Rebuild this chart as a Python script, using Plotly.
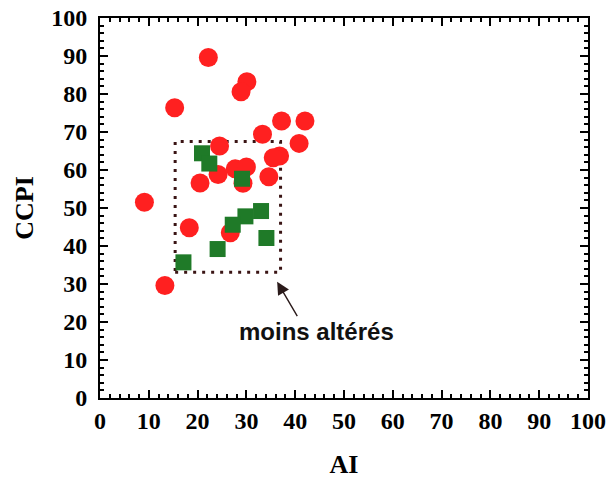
import plotly.graph_objects as go

# Red circles (all samples)
red_ai = [22.2, 30.1, 28.9, 15.3, 37.2, 42.0, 33.3, 40.8, 24.5, 36.8, 35.5,
          27.7, 30.0, 24.2, 29.3, 34.6, 20.5, 9.1, 18.3, 26.7, 13.3]
red_ccpi = [89.6, 83.2, 80.6, 76.4, 72.9, 72.9, 69.4, 67.0, 66.3, 63.7, 63.2,
            60.3, 60.8, 58.8, 56.5, 58.2, 56.6, 51.5, 44.8, 43.5, 29.6]

# Green squares (least altered)
green_ai = [20.9, 22.4, 29.1, 33.0, 29.8, 27.2, 34.1, 24.1, 17.1]
green_ccpi = [64.4, 61.7, 57.7, 49.2, 47.8, 45.6, 42.1, 39.2, 35.7]

# Dotted box around least-altered samples: [x0, x1], [y0, y1]
box_x = [15.4, 37.0]
box_y = [33.1, 67.5]

# Annotation
label_text = "<b>moins altérés</b>"
label_pos = [44.3, 17.4]
arrow_tip = [36.3, 30.6]

tick_vals = list(range(0, 101, 10))

fig = go.Figure()
fig.add_trace(go.Scatter(
    x=red_ai, y=red_ccpi, mode="markers",
    marker=dict(symbol="circle", size=19, color="#ff2020", line=dict(width=0)),
    showlegend=False, cliponaxis=False))
fig.add_trace(go.Scatter(
    x=green_ai, y=green_ccpi, mode="markers",
    marker=dict(symbol="square", size=16, color="#1f7a28", line=dict(width=0)),
    showlegend=False, cliponaxis=False))

fig.add_shape(type="rect", xref="x", yref="y",
              x0=box_x[0], x1=box_x[1], y0=box_y[0], y1=box_y[1],
              line=dict(color="#3a1414", width=3, dash="3px,6px"),
              fillcolor="rgba(0,0,0,0)", layer="below")

# arrow
fig.add_annotation(x=arrow_tip[0], y=arrow_tip[1], xref="x", yref="y",
                   text="", showarrow=True,
                   arrowhead=2, arrowsize=1.8, arrowwidth=1.4, arrowcolor="#2a1a1a",
                   ax=21, ay=36)
# label
fig.add_annotation(x=label_pos[0], y=label_pos[1], xref="x", yref="y",
                   text=label_text, showarrow=False,
                   xanchor="center", yanchor="middle",
                   font=dict(family="Liberation Sans", size=24, color="#111111"))

axis_common = dict(
    range=[0, 100], tickvals=tick_vals, ticks="inside", ticklen=8, tickwidth=2,
    tickcolor="black", showline=True, linecolor="black", linewidth=2,
    mirror="allticks", showgrid=False, zeroline=False, automargin=False,
    minor=dict(ticks="inside", ticklen=4, tickwidth=1.5, dtick=2, tickcolor="black", showgrid=False),
    tickfont=dict(family="Liberation Serif", size=24, color="black", weight="bold"),
)

fig.update_xaxes(**axis_common, ticklabelstandoff=0,
                 title=dict(text="<b>AI</b>", font=dict(family="Liberation Serif", size=26, color="black"),
                            standoff=22))
fig.update_yaxes(**axis_common, ticklabelstandoff=6,
                 title=dict(text="<b>CCPI</b>", font=dict(family="Liberation Serif", size=26, color="black"),
                            standoff=10))

fig.update_layout(
    width=610, height=480,
    margin=dict(l=100, r=22, t=18, b=82),
    plot_bgcolor="white", paper_bgcolor="white",
)

fig.write_html("out.html")
